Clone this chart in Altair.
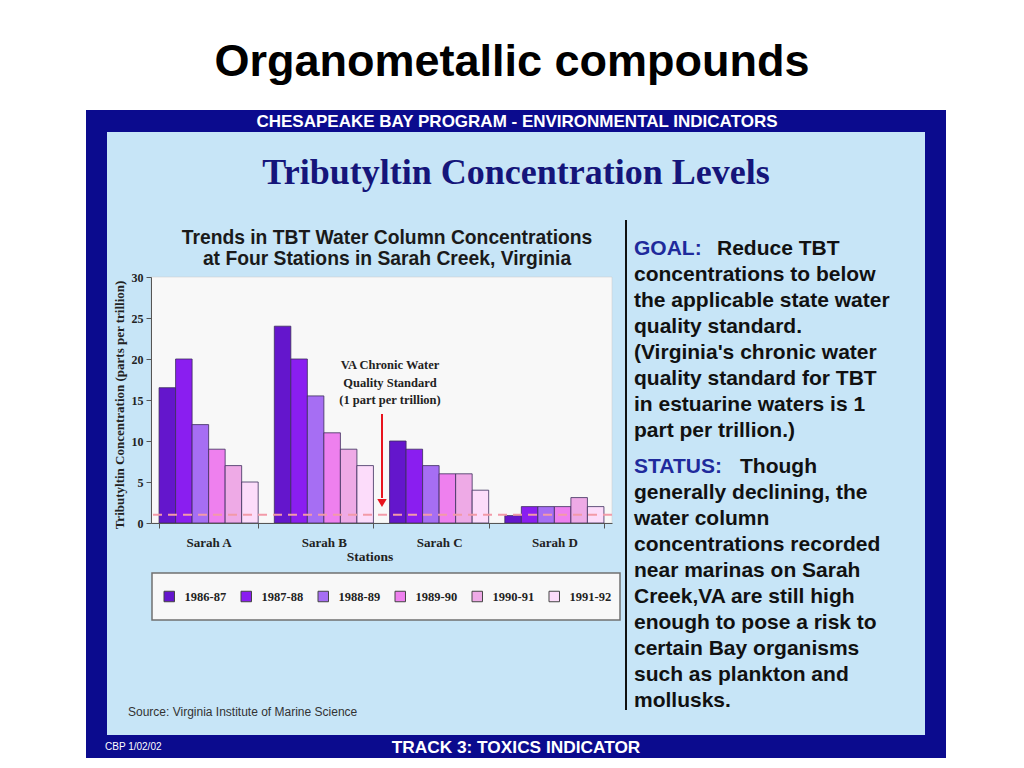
import altair as alt
import pandas as pd

# ---------------- data ----------------
stations = ["Sarah A", "Sarah B", "Sarah C", "Sarah D"]
years = ["1986-87", "1987-88", "1988-89", "1989-90", "1990-91", "1991-92"]
sarah_a = [16.5, 20, 12, 9, 7, 5]
sarah_b = [24, 20, 15.5, 11, 9, 7]
sarah_c = [10, 9, 7, 6, 6, 4]
sarah_d = [0.9, 2, 2, 2, 3.1, 2]
year_colors = ["#6416cc", "#8a1ef0", "#a66ef3", "#ee80ee", "#eeaae6", "#fcdcfa"]
y_ticks = [0, 5, 10, 15, 20, 25, 30]
standard_ppt = 1

goal_lines = [
    "concentrations to below",
    "the applicable state water",
    "quality standard.",
    "(Virginia's chronic water",
    "quality standard for TBT",
    "in estuarine waters is 1",
    "part per trillion.)",
]
status_lines = [
    "generally declining, the",
    "water column",
    "concentrations recorded",
    "near marinas on Sarah",
    "Creek,VA are still high",
    "enough to pose a risk to",
    "certain Bay organisms",
    "such as plankton and",
    "mollusks.",
]
note_lines = ["VA Chronic Water", "Quality Standard", "(1 part per trillion)"]

rows = []
for st, vals in zip(stations, [sarah_a, sarah_b, sarah_c, sarah_d]):
    for yr, v in zip(years, vals):
        rows.append({"Station": st, "Year": yr, "TBT": v})
df = pd.DataFrame(rows)

# ---------------- helpers ----------------
SERIF = "Liberation Serif"
SANS = "Liberation Sans"
OX, OY = 151, 277          # page position of plot origin
PW, PH = 461, 246          # plot size
one = pd.DataFrame({"k": [0]})


def rect(x1, y1, x2, y2, **kw):
    return alt.Chart(one).mark_rect(**kw).encode(
        x=alt.value(x1 - OX), x2=alt.value(x2 - OX),
        y=alt.value(y1 - OY), y2=alt.value(y2 - OY))


def label(txt, x, y, **kw):
    kw.setdefault("baseline", "middle")
    return alt.Chart(one).mark_text(text=txt, **kw).encode(
        x=alt.value(x - OX), y=alt.value(y - OY))


layers = []
# frame
layers.append(rect(86, 110, 946, 758, fill="#0b0b8e"))
layers.append(rect(107, 132, 925, 735, fill="#c7e5f7"))
# plot background and legend box
layers.append(rect(OX, OY, OX + PW, OY + PH, fill="#f8f8f8", stroke="#c8c8c8", strokeWidth=0.5))
layers.append(rect(152, 573, 620, 620, fill="#f8f8f8", stroke="#707070", strokeWidth=1.5))

# bars
bars = alt.Chart(df).mark_bar(stroke="#3b2d5c", strokeWidth=0.8).encode(
    x=alt.X("Station:N", sort=stations,
            scale=alt.Scale(paddingInner=0.14, paddingOuter=0.07),
            axis=alt.Axis(title=None, tickBand="extent", labelFont=SERIF,
                          labelFontWeight="bold", labelFontSize=13, labelAngle=0,
                          labelColor="#222", tickSize=5, labelPadding=8,
                          domainColor="#555", tickColor="#555", zindex=2)),
    xOffset=alt.XOffset("Year:N", sort=years,
                        scale=alt.Scale(paddingInner=0, paddingOuter=0)),
    y=alt.Y("TBT:Q", scale=alt.Scale(domain=[0, 30], nice=False),
            axis=alt.Axis(values=y_ticks, title=None, grid=False, labelFont=SERIF,
                          labelFontWeight="bold", labelFontSize=12, labelColor="#222",
                          tickSize=5, labelPadding=3, domainColor="#555", tickColor="#555",
                          zindex=2)),
    fill=alt.Fill("Year:N", sort=years,
                  scale=alt.Scale(domain=years, range=year_colors),
                  legend=alt.Legend(title=None, orient="none", legendX=12, legendY=313,
                                    direction="horizontal", columns=6, symbolType="square",
                                    symbolSize=110, symbolStrokeColor="#444",
                                    symbolStrokeWidth=1, symbolOpacity=1,
                                    labelFont=SERIF, labelFontWeight="bold",
                                    labelFontSize=12.5, labelColor="#222",
                                    labelOffset=9, columnPadding=12, padding=0)),
)
layers.append(bars)

# water quality standard line
layers.append(alt.Chart(one).mark_rule(color="#f29aa8", strokeWidth=2, strokeDash=[9, 6]).encode(
    y=alt.Y(datum=standard_ppt)))

# arrow
layers.append(alt.Chart(one).mark_rule(color="#e8141e", strokeWidth=2).encode(
    x=alt.value(382 - OX), y=alt.value(414 - OY), y2=alt.value(498 - OY)))
layers.append(alt.Chart(one).mark_point(shape="triangle-down", filled=True, color="#e8141e",
                                        size=90, opacity=1).encode(
    x=alt.value(382 - OX), y=alt.value(503 - OY)))

# annotation
for i, t in enumerate(note_lines):
    layers.append(label(t, 390, 365 + 17.5 * i, font=SERIF, fontSize=12.5, fontWeight="bold",
                        color="#222", align="center"))

# texts
layers.append(label("Organometallic compounds", 512, 62, font=SANS, fontSize=45,
                    fontWeight="bold", color="#000", align="center"))
layers.append(label("CHESAPEAKE BAY PROGRAM - ENVIRONMENTAL INDICATORS", 517, 122, font=SANS,
                    fontSize=17, fontWeight="bold", color="#ffffff", align="center"))
layers.append(label("Tributyltin Concentration Levels", 516, 173, font=SERIF, fontSize=36,
                    fontWeight="bold", color="#15157a", align="center"))
layers.append(label("Trends in TBT Water Column Concentrations", 387, 238, font=SANS,
                    fontSize=19.3, fontWeight="bold", color="#1a1a1a", align="center"))
layers.append(label("at Four Stations in Sarah Creek, Virginia", 387, 259, font=SANS,
                    fontSize=19.3, fontWeight="bold", color="#1a1a1a", align="center"))
layers.append(label("Tributyltin Concentration (parts per trillion)", 120, 405, font=SERIF,
                    fontSize=13, fontWeight="bold", color="#222", align="center", angle=270))
layers.append(label("Stations", 370, 557, font=SERIF, fontSize=13.5, fontWeight="bold",
                    color="#222", align="center"))
layers.append(label("Source:  Virginia Institute of Marine Science", 128, 712, font=SANS,
                    fontSize=12, color="#333", align="left"))
layers.append(label("CBP 1/02/02", 105, 747, font=SANS, fontSize=10, color="#ffffff",
                    align="left"))
layers.append(label("TRACK 3: TOXICS INDICATOR", 516, 748, font=SANS, fontSize=17.3,
                    fontWeight="bold", color="#ffffff", align="center"))

# right panel
layers.append(alt.Chart(one).mark_rule(color="#111", strokeWidth=2).encode(
    x=alt.value(626 - OX), y=alt.value(220 - OY), y2=alt.value(710 - OY)))
BLUE = "#1f2a9c"
layers.append(label("GOAL:", 634, 249, font=SANS, fontSize=21, fontWeight="bold", color=BLUE,
                    align="left"))
layers.append(label("Reduce TBT", 717, 249, font=SANS, fontSize=21, fontWeight="bold",
                    color="#111", align="left"))
for i, t in enumerate(goal_lines):
    layers.append(label(t, 634, 275 + 26 * i, font=SANS, fontSize=21, fontWeight="bold",
                        color="#111", align="left"))
layers.append(label("STATUS:", 634, 467, font=SANS, fontSize=21, fontWeight="bold", color=BLUE,
                    align="left"))
layers.append(label("Though", 740, 467, font=SANS, fontSize=21, fontWeight="bold",
                    color="#111", align="left"))
for i, t in enumerate(status_lines):
    layers.append(label(t, 634, 493 + 26 * i, font=SANS, fontSize=21, fontWeight="bold",
                        color="#111", align="left"))

chart = alt.layer(*layers).properties(
    width=PW, height=PH,
    padding={"left": OX - 8, "top": OY - 8, "right": 1016 - OX - PW, "bottom": 760 - OY - PH},
    autosize=alt.AutoSizeParams(type="none"),
    background="white",
).configure_view(strokeWidth=0)

chart.save("out.html", embed_options={"renderer": "svg", "actions": False})
